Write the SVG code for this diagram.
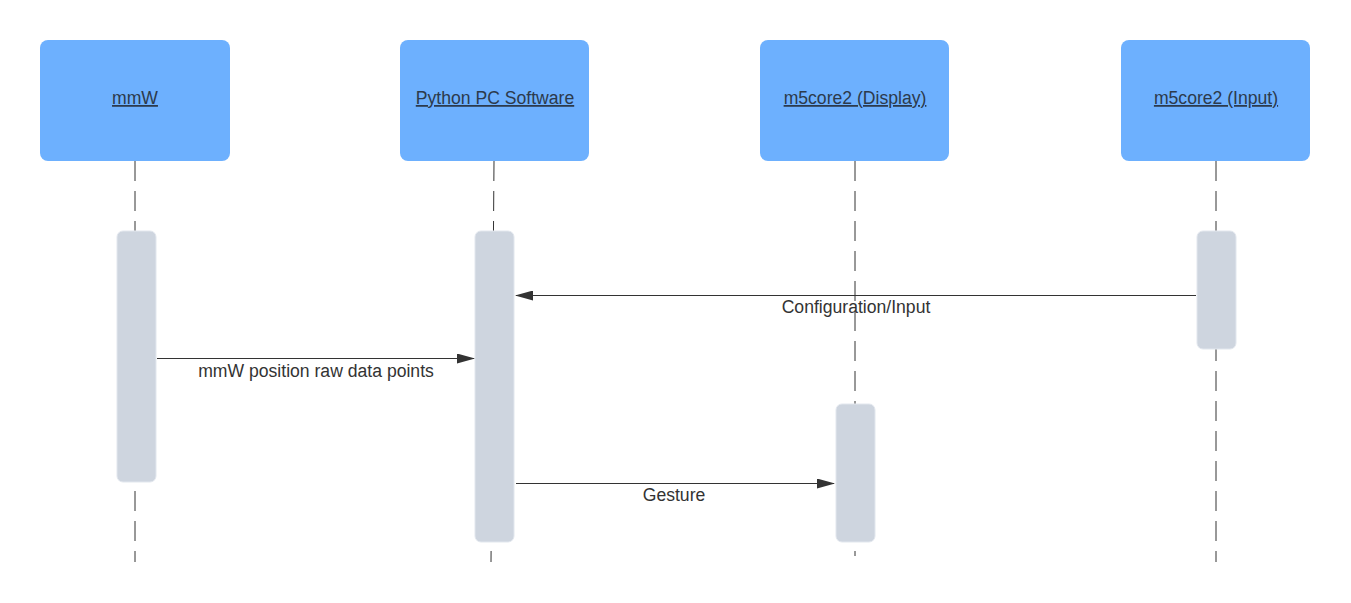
<svg xmlns="http://www.w3.org/2000/svg" width="1351" height="603" viewBox="0 0 1351 603">
<style>
.hdr{fill:#6DB0FE;}
.hdrt{font-family:"Liberation Sans",Arial,sans-serif;font-size:17.6px;fill:#2C3A4C;text-anchor:middle;text-decoration:underline;}
.life{stroke:#333;stroke-width:1;stroke-dasharray:20 10;fill:none;}
.act{fill:#CED5DF;stroke:#E2E7EE;stroke-width:1;}
.msg{stroke:#333;stroke-width:1;fill:none;}
.lbl{font-family:"Liberation Sans",Arial,sans-serif;font-size:17.6px;fill:#333;text-anchor:middle;}
</style>
<defs>
<marker id="ah" markerWidth="18" markerHeight="10" refX="17" refY="5" orient="auto" markerUnits="userSpaceOnUse">
<path d="M0,0 L18,5 L0,10 Z" fill="#333"/>
</marker>
</defs>
<rect width="1351" height="603" fill="#fff"/>
<g id="lifelines">
<line class="life" x1="135" y1="161" x2="135" y2="562"/>
<line class="life" x1="494" y1="161" x2="491" y2="562"/>
<line class="life" x1="855" y1="161" x2="855" y2="556"/>
<line class="life" x1="1216" y1="161" x2="1216" y2="562"/>
</g>
<g id="mmW">
<rect class="hdr" x="40" y="40" width="190" height="121" rx="8"/>
<text class="hdrt" x="135" y="104">mmW</text>
</g>
<g id="python">
<rect class="hdr" x="400" y="40" width="189" height="121" rx="8"/>
<text class="hdrt" x="495" y="104">Python PC Software</text>
</g>
<g id="display">
<rect class="hdr" x="760" y="40" width="189" height="121" rx="8"/>
<text class="hdrt" x="855" y="104">m5core2 (Display)</text>
</g>
<g id="input">
<rect class="hdr" x="1121" y="40" width="189" height="121" rx="8"/>
<text class="hdrt" x="1216" y="104">m5core2 (Input)</text>
</g>
<g id="activations">
<rect id="act-mmW" class="act" x="117" y="231" width="39" height="251" rx="6"/>
<rect id="act-python" class="act" x="475" y="231" width="39" height="311" rx="6"/>
<rect id="act-display" class="act" x="836" y="404" width="39" height="138" rx="6"/>
<rect id="act-input" class="act" x="1197" y="231" width="39" height="118" rx="6"/>
</g>
<g id="connectors">
<line class="msg" x1="157" y1="358.5" x2="474" y2="358.5" marker-end="url(#ah)"/>
<line class="msg" x1="1196" y1="295.5" x2="516" y2="295.5" marker-end="url(#ah)"/>
<line class="msg" x1="516" y1="483.5" x2="834" y2="483.5" marker-end="url(#ah)"/>
<text class="lbl" x="316" y="377">mmW position raw data points</text>
<text class="lbl" x="856" y="313">Configuration/Input</text>
<text class="lbl" x="674" y="501">Gesture</text>
</g>
</svg>
